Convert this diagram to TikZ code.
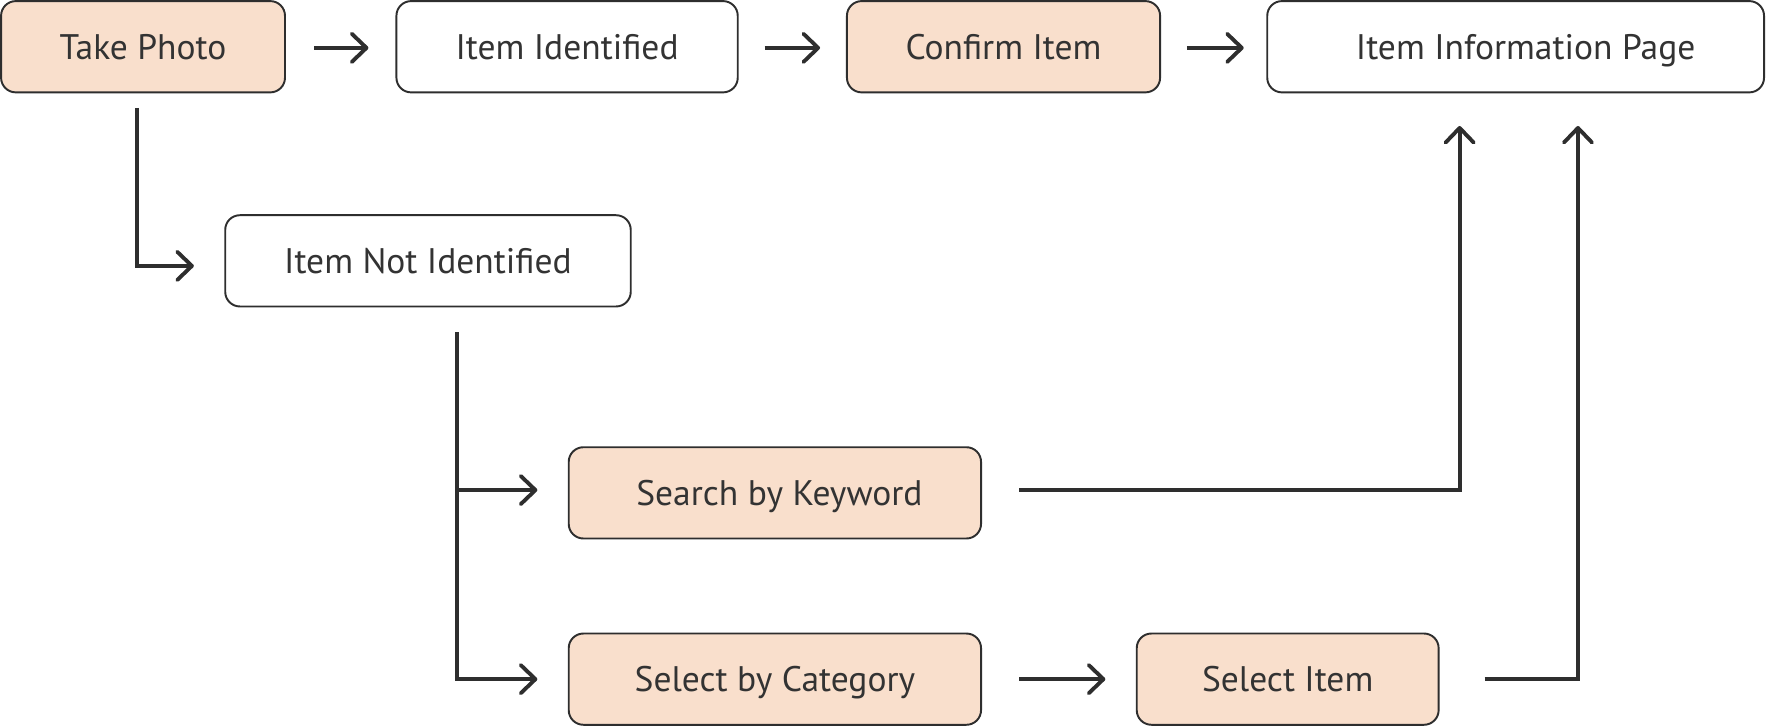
\documentclass[tikz,border=0pt]{standalone}
\usepackage{fontspec}
\setmainfont{PT Sans}
\usetikzlibrary{arrows.meta}
\definecolor{peach}{RGB}{249,223,204}
\definecolor{ink}{RGB}{46,46,46}
\definecolor{txt}{RGB}{51,51,51}
\begin{document}
\begin{tikzpicture}[x=0.022526cm,y=-0.022526cm,
  box/.style={draw=ink,line width=1.1pt,rounded corners=0.293cm,inner sep=0pt,
    minimum height=1.825cm,text=txt,text height=14.1pt,text depth=0pt,
    font=\fontsize{20.2}{23}\selectfont},
  pbox/.style={box,fill=peach},
  wbox/.style={box,fill=white},
  arr/.style={draw=ink,line width=2.2pt,line join=miter,
    -{Straight Barb[length=0.293cm,width=0.563cm,line join=round,line cap=round]}}]
\useasboundingbox (0,0) rectangle (1568,644.6);
\node[pbox,minimum width=5.677cm] (tp) at (127,41.5) {Take Photo};
\node[wbox,minimum width=6.825cm] (ii) at (503.5,41.5) {Item Identified};
\node[pbox,minimum width=6.262cm] (ci) at (891,41.5) {Confirm Item};
\node[wbox,minimum width=9.934cm] (ip) at (1345.7,41.5) {\hspace{0.4cm}Item Information Page};
\node[wbox,minimum width=8.109cm] (ni) at (380,231.6) {Item Not Identified};
\node[pbox,minimum width=8.245cm] (sk) at (688,437.6) {\hspace{0.18cm}Search by Keyword};
\node[pbox,minimum width=8.245cm] (sc) at (688,603) {Select by Category};
\node[pbox,minimum width=6.037cm] (si) at (1143.3,603) {Select Item};
% top row
\draw[arr,shorten <=0.563cm,shorten >=0.541cm] ([yshift=-0.0225cm]tp.east) -- ([yshift=-0.0225cm]ii.west);
\draw[arr,shorten <=0.518cm,shorten >=0.518cm] ([yshift=-0.0225cm]ii.east) -- ([yshift=-0.0225cm]ci.west);
\draw[arr,shorten <=0.518cm,shorten >=0.451cm] ([yshift=-0.0225cm]ci.east) -- ([yshift=-0.0225cm]ip.west);
% take photo -> not identified
\draw[arr] ([xshift=-0.113cm,yshift=-0.293cm]tp.south) |- ([xshift=-0.608cm,yshift=-0.101cm]ni.west);
% not identified -> branches
\draw[arr] ([xshift=0.586cm,yshift=-0.496cm]ni.south) |- ([xshift=-0.608cm,yshift=0.056cm]sk.west);
\draw[arr] ([xshift=0.586cm,yshift=-0.496cm]ni.south) |- ([xshift=-0.608cm]sc.west);
% category -> item
\draw[arr,shorten <=0.743cm,shorten >=0.608cm] (sc.east) -- (si.west);
% to information page
\draw[arr] ([xshift=0.743cm,yshift=0.056cm]sk.east) -| ([xshift=-1.120cm,yshift=-0.653cm]ip.south);
\draw[arr] ([xshift=0.901cm]si.east) -| ([xshift=1.246cm,yshift=-0.653cm]ip.south);
\end{tikzpicture}
\end{document}
